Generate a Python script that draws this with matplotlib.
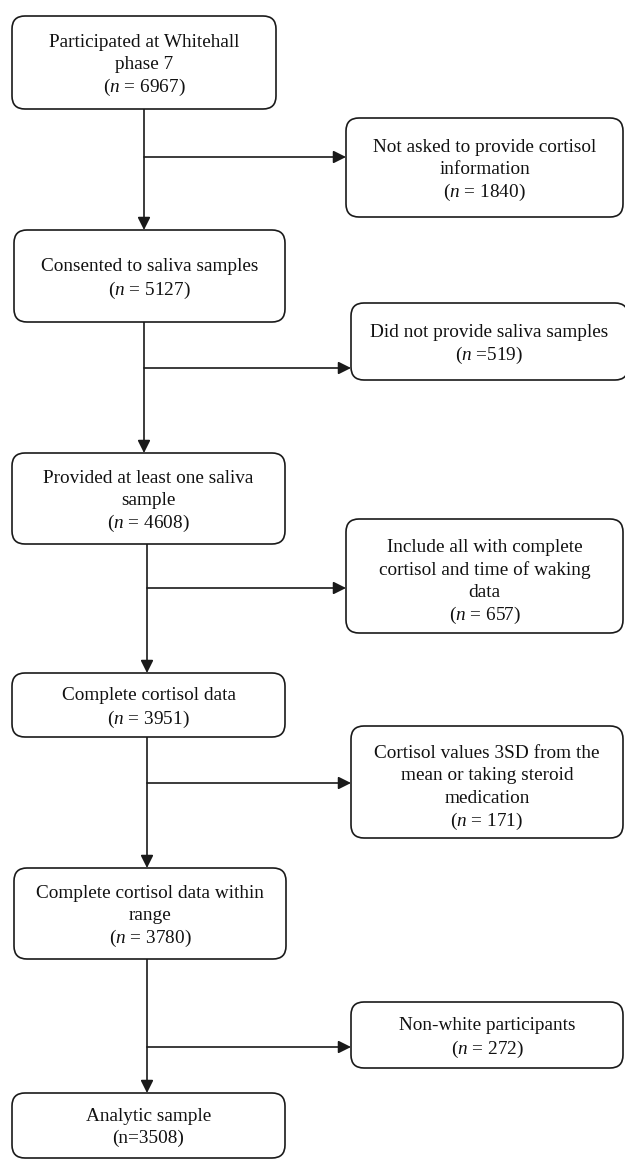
import matplotlib
matplotlib.use("Agg")
import matplotlib.pyplot as plt
from matplotlib.patches import FancyBboxPatch, FancyArrowPatch

plt.rcParams['font.family'] = ['Liberation Serif', 'DejaVu Serif']
plt.rcParams['mathtext.fontset'] = 'custom'
plt.rcParams['mathtext.rm'] = 'Liberation Serif'
plt.rcParams['mathtext.it'] = 'Liberation Serif:italic'

# ---- data ----
main_labels = [
    "Participated at Whitehall\nphase 7",
    "Consented to saliva samples",
    "Provided at least one saliva\nsample",
    "Complete cortisol data",
    "Complete cortisol data within\nrange",
    "Analytic sample",
]
main_counts = [6967, 5127, 4608, 3951, 3780, 3508]
excl_labels = [
    "Not asked to provide cortisol\ninformation",
    "Did not provide saliva samples",
    "Include all with complete\ncortisol and time of waking\ndata",
    "Cortisol values 3SD from the\nmean or taking steroid\nmedication",
    "Non-white participants",
]
excl_counts = [1840, 519, 657, 171, 272]

# ---- layout (pixels) ----
W, H = 625, 1160
main_boxes = [  # x0, x1, y0, y1
    (12, 276, 16, 109),
    (14, 285, 230, 322),
    (12, 285, 453, 544),
    (12, 285, 673, 737),
    (14, 286, 868, 959),
    (12, 285, 1093, 1158),
]
excl_boxes = [
    (346, 623, 118, 217),
    (351, 628, 303, 380),
    (346, 623, 519, 633),
    (351, 623, 726, 838),
    (351, 623, 1002, 1068),
]
spine_x = [144, 144, 147, 147, 147]
arrow_y = [157, 368, 588, 783, 1047]

LC = '#1a1a1a'
FS = 13.9
LSP = 22.3  # line pitch in pixels

fig = plt.figure(figsize=(W / 100, H / 100), dpi=100)
ax = fig.add_axes([0, 0, 1, 1])
ax.set_xlim(0, W)
ax.set_ylim(H, 0)
ax.axis('off')


def box(b, lines, yshift=0):
    x0, x1, y0, y1 = b
    p = FancyBboxPatch((x0, y0), x1 - x0, y1 - y0,
                       boxstyle="round,pad=0,rounding_size=13",
                       fc='white', ec=LC, lw=1.2, zorder=2)
    ax.add_patch(p)
    cx, cy = (x0 + x1) / 2, (y0 + y1) / 2 + yshift
    n = len(lines)
    for k, ln in enumerate(lines):
        y = cy + (k - (n - 1) / 2) * LSP
        ax.text(cx, y, ln, ha='center', va='center_baseline',
                fontsize=FS, color='#111111', zorder=3)


def count_text(n, italic=True, tight=False):
    if not italic:
        return "(n=%d)" % n
    if tight:
        return r"($\mathit{n}$ =%d)" % n
    return r"($\mathit{n}$ = %d)" % n


for i, (lab, n) in enumerate(zip(main_labels, main_counts)):
    lines = lab.split("\n") + [count_text(n, italic=(i < len(main_labels) - 1))]
    box(main_boxes[i], lines)

for i, (lab, n) in enumerate(zip(excl_labels, excl_counts)):
    lines = lab.split("\n") + [count_text(n, tight=(i == 1))]
    box(excl_boxes[i], lines, yshift=(3 if i >= 2 and i <= 3 else 0))

# connectors
for i in range(len(spine_x)):
    sx = spine_x[i]
    ytop = main_boxes[i][3]
    ybot = main_boxes[i + 1][2]
    ax.add_patch(FancyArrowPatch((sx, ytop), (sx, ybot), arrowstyle='-|>',
                                 mutation_scale=19, color=LC, lw=1.2,
                                 shrinkA=0, shrinkB=0, zorder=1))
    ax.add_patch(FancyArrowPatch((sx, arrow_y[i]), (excl_boxes[i][0], arrow_y[i]),
                                 arrowstyle='-|>', mutation_scale=19, color=LC,
                                 lw=1.2, shrinkA=0, shrinkB=0, zorder=1))

fig.savefig('out.png', dpi=100, facecolor='white')
